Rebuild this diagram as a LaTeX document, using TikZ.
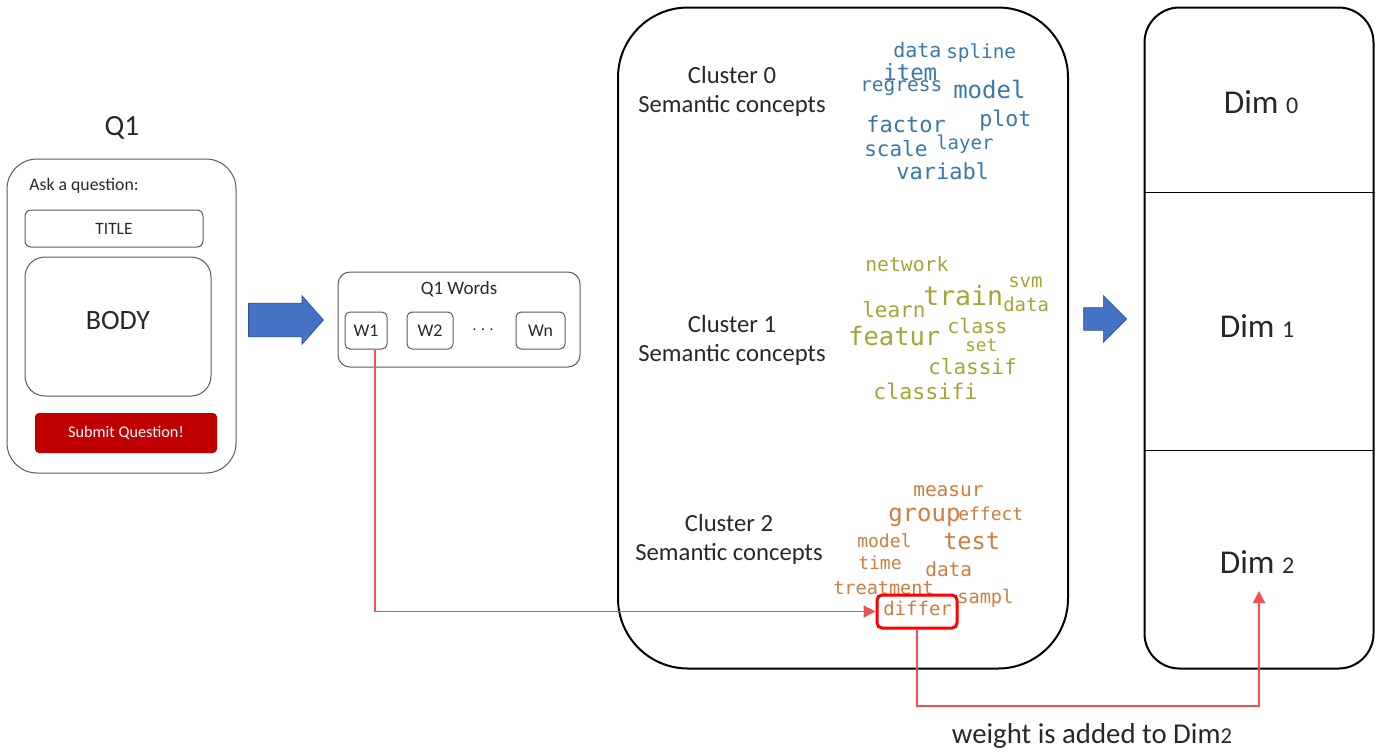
\documentclass[tikz,border=0pt]{standalone}
\usepackage{fontspec}
\setmainfont{Carlito}
\newfontfamily\cloudfont{DejaVu Sans Mono}
\usetikzlibrary{arrows.meta,shapes.arrows}

\definecolor{cloudblue}{RGB}{58,120,170}
\definecolor{cloudolive}{RGB}{165,165,55}
\definecolor{cloudorange}{RGB}{205,125,65}
\definecolor{arrowblue}{RGB}{68,114,196}
\definecolor{arrowedge}{RGB}{47,82,143}
\definecolor{submitred}{RGB}{192,0,0}
\definecolor{linkred}{RGB}{240,80,80}
\definecolor{boxgray}{RGB}{90,90,90}
\definecolor{inkgray}{RGB}{40,40,40}

\newcommand\fsz[1]{\fontsize{#1}{#1}\selectfont}

\tikzset{
  graybox/.style={draw=boxgray, line width=0.75pt, inner sep=0pt},
  bigbox/.style={draw=black, line width=1.5pt, inner sep=0pt},
  wordbox/.style={graybox, rounded corners=3.75pt, minimum height=27.75pt, text=inkgray, font=\fsz{13.4}},
  blockarrow/.style={single arrow, fill=arrowblue, draw=arrowedge, line width=0.5pt, inner xsep=0pt},
  plaintext/.style={inner sep=0pt, text=inkgray, align=center},
  cloudword/.style={anchor=base west, inner sep=0pt, font=\cloudfont\fsz{#1}},
  czero/.style={cloudword=#1, text=cloudblue},
  cone/.style={cloudword=#1, text=cloudolive},
  ctwo/.style={cloudword=#1, text=cloudorange},
  redlink/.style={draw=linkred, line width=0.9pt, -{Triangle[length=9pt,width=9pt]}},
}

\begin{document}
\begin{tikzpicture}[x=0.75pt, y=-0.75pt]
	\useasboundingbox (0,0) rectangle (1380,754);

	% question form
	\node [plaintext, font=\fsz{22}](q1) at (122,128) {Q1};
	\node [graybox, rounded corners=22.5pt, minimum width=171.75pt, minimum height=235.5pt](form) at (121.5,316) {};
	\node [plaintext, font=\fsz{13.3}](ask) at (84,186) {Ask a question:};
	\node [graybox, rounded corners=4.5pt, minimum width=133.5pt, minimum height=27.75pt, font=\fsz{13}, text=inkgray](title) at (114,228.5) {TITLE};
	\node [graybox, rounded corners=15pt, minimum width=139.5pt, minimum height=104.25pt](body) at (118,326.5) {};
	\node [plaintext, font=\fsz{21}](bodyText) at (118,321) {BODY};
	\node [fill=submitred, rounded corners=3pt, minimum width=136.5pt, minimum height=30pt, inner sep=0pt, font=\fsz{12.2}, text=white](submit) at (126,433) {Submit Question!};

	\node [blockarrow, minimum height=56.25pt, inner ysep=12.4pt, single arrow head extend=5.6pt, single arrow tip angle=97](toWords) at (278.5,320) {};

	% words of the question
	\node [graybox, rounded corners=9pt, minimum width=181.5pt, minimum height=71.25pt](words) at (459,319.5) {};
	\node [plaintext, font=\fsz{14.2}](wordsTitle) at (459,289) {Q1 Words};
	\node [wordbox, minimum width=31.5pt](w1) at (366,330.5) {W1};
	\node [wordbox, minimum width=34.5pt](w2) at (430,330.5) {W2};
	\node [plaintext, font=\fsz{13.4}](dots) at (483,330) {$\cdots$};
	\node [wordbox, minimum width=36.75pt](wn) at (540.5,330.5) {Wn};

	% clusters
	\node [bigbox, rounded corners=52.5pt, minimum width=337.5pt, minimum height=495.75pt](clusters) at (843,338) {};
	\node [plaintext, font=\fontsize{18.5}{21.75}\selectfont](clusterA) at (732,91.5) {Cluster 0\\Semantic concepts};
	\node [plaintext, font=\fontsize{18.5}{21.75}\selectfont](clusterB) at (732,340.5) {Cluster 1\\Semantic concepts};
	\node [plaintext, font=\fontsize{18.5}{21.75}\selectfont](clusterC) at (729,539) {Cluster 2\\Semantic concepts};

	% cluster 0 words
	\node [czero=15](aData) at (893,57) {data};
	\node [czero=14.5](aSpline) at (946,58) {spline};
	\node [czero=16.8](aItem) at (883,80) {item};
	\node [czero=14.6](aRegress) at (860,91.7) {regress};
	\node [czero=18](aModel) at (953,98.3) {model};
	\node [czero=16.5](aFactor) at (866,132.7) {factor};
	\node [czero=16.2](aPlot) at (979,126.7) {plot};
	\node [czero=15.75](aScale) at (864,156.7) {scale};
	\node [czero=14.25](aLayer) at (936,149) {layer};
	\node [czero=16.5](aVariabl) at (896,179) {variabl};

	% cluster 1 words
	\node [cone=14.8](bNetwork) at (865,271.7) {network};
	\node [cone=14.25](bSvm) at (1008,287.3) {svm};
	\node [cone=19.9](bTrain) at (923,305) {train};
	\node [cone=14.25](bData) at (1003,311.7) {data};
	\node [cone=15.75](bLearn) at (862,317.7) {learn};
	\node [cone=15](bClass) at (947,333.3) {class};
	\node [cone=19.1](bFeatur) at (848,345) {featur};
	\node [cone=13.3](bSet) at (965,351) {set};
	\node [cone=15.75](bClassif) at (928,374) {classif};
	\node [cone=16.2](bClassifi) at (873,399) {classifi};

	% cluster 2 words
	\node [ctwo=14.6](cMeasur) at (913,496.7) {measur};
	\node [ctwo=18](cGroup) at (888,521) {group};
	\node [ctwo=13.5](cEffect) at (958,520.7) {effect};
	\node [ctwo=13.5](cModel) at (857,547.7) {model};
	\node [ctwo=17.7](cTest) at (943,549) {test};
	\node [ctwo=13.5](cTime) at (858,569.3) {time};
	\node [ctwo=14.6](cData) at (925,576) {data};
	\node [ctwo=13.9](cTreatment) at (833,594.3) {treatment};
	\node [ctwo=14](cSampl) at (957,603.3) {sampl};
	\node [ctwo=14.25](cDiffer) at (883,615) {differ};
	\node [draw=red, line width=2.25pt, rounded corners=3.75pt, minimum width=60pt, minimum height=24.75pt, inner sep=0pt](differbox) at (917,611.5) {};

	\node [blockarrow, minimum height=32.25pt, inner ysep=8.25pt, single arrow head extend=9pt, single arrow tip angle=90](toDims) at (1099.5,319) {};

	% dimensions
	\node [bigbox, rounded corners=26.25pt, minimum width=171.75pt, minimum height=495.75pt](dims) at (1259,338) {};
	\coordinate (cutA) at (1259,192);
	\coordinate (cutB) at (1259,450);
	\draw [line width=0.75pt](dims.west |- cutA) -- (dims.east |- cutA);
	\draw [line width=0.75pt](dims.west |- cutB) -- (dims.east |- cutB);
	\node [plaintext, font=\fsz{25}](dimZero) at (1261,102) {Dim {\fsz{18}0}};
	\node [plaintext, font=\fsz{25}](dimOne) at (1257,326) {Dim {\fsz{18}1}};
	\node [plaintext, font=\fsz{25}](dimTwo) at (1257,562) {Dim {\fsz{18}2}};

	% weight links
	\coordinate (dimtip) at (1259,591);
	\coordinate (lowroute) at (1259,706);
	\draw [redlink]([xshift=6.75pt]w1.south) |- (differbox.west);
	\draw [redlink](differbox.south) |- (lowroute) -- (dimtip);
	\node [plaintext, font=\fsz{21.6}](weight) at (1092,736) {weight is added to Dim{\fsz{17}2}};
\end{tikzpicture}
\end{document}
